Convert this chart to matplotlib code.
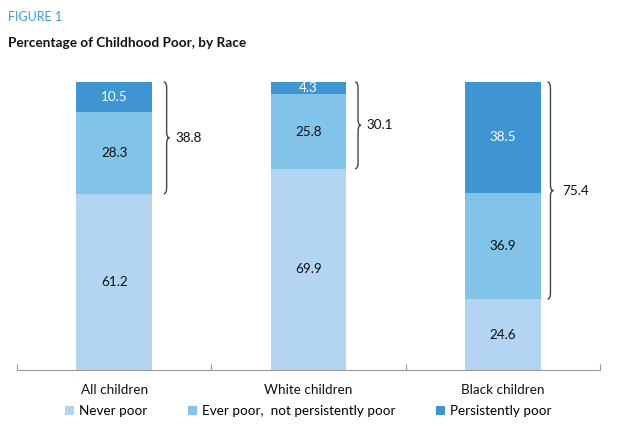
import matplotlib
matplotlib.use("Agg")
import matplotlib.pyplot as plt
from matplotlib.path import Path
from matplotlib.patches import PathPatch

plt.rcParams['font.family'] = ['Lato', 'DejaVu Sans']

categories = ["All children", "White children", "Black children"]
never_poor = [61.2, 69.9, 24.6]
ever_poor = [28.3, 25.8, 36.9]
persistent = [10.5, 4.3, 38.5]
ever_total = [38.8, 30.1, 75.4]
series_names = ["Never poor", "Ever poor,  not persistently poor", "Persistently poor"]
colors = ["#b3d5f1", "#82c3ea", "#3e95d2"]

fig = plt.figure(figsize=(6.34, 4.4), dpi=100)
ax = fig.add_axes([17/634, 70/440, 583/634, 288/440])

x = list(range(len(categories)))
w = 0.39
ax.bar(x, never_poor, w, color=colors[0], label=series_names[0])
ax.bar(x, ever_poor, w, bottom=never_poor, color=colors[1], label=series_names[1])
b2 = [a + b for a, b in zip(never_poor, ever_poor)]
ax.bar(x, persistent, w, bottom=b2, color=colors[2], label=series_names[2])

for i in x:
    ax.text(i, never_poor[i] / 2, f"{never_poor[i]:.1f}", ha='center', va='center', fontsize=9.7, color='#111111')
    ax.text(i, never_poor[i] + ever_poor[i] / 2, f"{ever_poor[i]:.1f}", ha='center', va='center', fontsize=9.7, color='#111111')
    ax.text(i, b2[i] + persistent[i] / 2, f"{persistent[i]:.1f}", ha='center', va='center', fontsize=9.7, color='white')

# braces
def brace(ax, xc, y1, y2, depth=0.03, r=2.0):
    ym = (y1 + y2) / 2
    xm = xc + depth / 2
    xt = xc + depth
    verts = [
        (xc, y2), (xm, y2), (xm, y2 - r),
        (xm, ym + r),
        (xm, ym), (xt, ym),
        (xm, ym), (xm, ym - r),
        (xm, y1 + r),
        (xm, y1), (xc, y1),
    ]
    codes = [Path.MOVETO, Path.CURVE3, Path.CURVE3,
             Path.LINETO,
             Path.CURVE3, Path.CURVE3,
             Path.CURVE3, Path.CURVE3,
             Path.LINETO,
             Path.CURVE3, Path.CURVE3]
    ax.add_patch(PathPatch(Path(verts, codes), fill=False, edgecolor='#444444', lw=1.0, clip_on=False))

offsets = [0.255, 0.24, 0.23]
label_gap = [0.06, 0.06, 0.075]
for i in x:
    xc = i + offsets[i]
    brace(ax, xc, never_poor[i], 100)
    ax.text(xc + label_gap[i], never_poor[i] + ever_total[i] / 2, f"{ever_total[i]:.1f}",
            ha='left', va='center', fontsize=9.7, color='#111111')

ax.set_xlim(-0.5, 2.5)
ax.set_ylim(0, 100)
ax.set_yticks([])
ax.set_xticks([-0.5, 0.5, 1.5, 2.5])
ax.set_xticklabels([])
ax.tick_params(axis='x', direction='in', length=4, color='#999999')
for s in ['top', 'right', 'left']:
    ax.spines[s].set_visible(False)
ax.spines['bottom'].set_color('#999999')

for i, c in enumerate(categories):
    ax.text(i, -7.0, c, ha='center', va='center', fontsize=9.7, color='#111111')

leg = fig.legend(loc='center', bbox_to_anchor=(308/634, 1 - 411/440), ncol=3, frameon=False,
                 fontsize=9.7, handlelength=0.7, handleheight=0.7, handletextpad=0.35,
                 columnspacing=3.0)

fig.text(8/634, 1 - 17/440, "FIGURE 1", color='#3a9ad9', fontsize=9, ha='left', va='center')
fig.text(8/634, 1 - 43/440, "Percentage of Childhood Poor, by Race", color='#111111',
         fontsize=9.8, fontweight='bold', ha='left', va='center')

fig.savefig("out.png", dpi=100)
